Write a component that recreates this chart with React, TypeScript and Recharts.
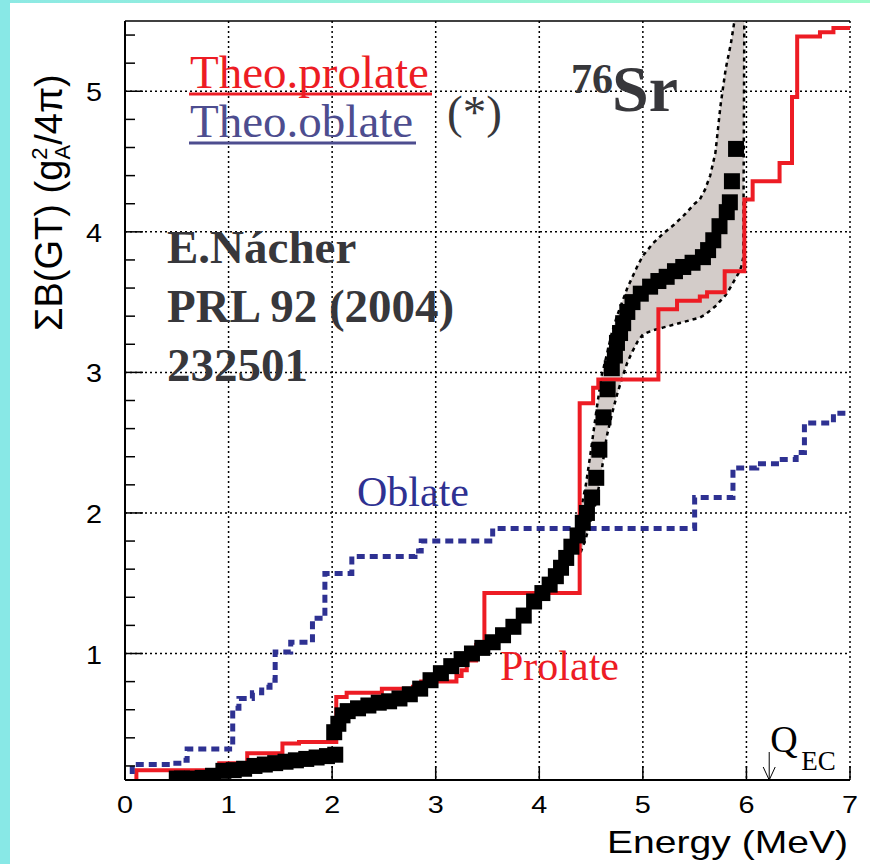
import React from "react";
import {
  ComposedChart,
  XAxis,
  YAxis,
  CartesianGrid,
  Line,
  Area,
  Scatter,
  ReferenceLine,
} from "recharts";

document.body.style.margin = "0";

// Theoretical cumulative B(GT), prolate shape (step after each energy)
const prolateE = [0.11, 0.11, 0.91, 1.18, 1.52, 1.68, 2.04, 2.14, 2.48, 2.78, 2.86, 3.2, 3.25, 3.3, 3.39, 3.47, 4.39, 4.52, 4.57, 5.15, 5.33, 5.55, 5.62, 5.79, 5.98, 6.06, 6.32, 6.44, 6.49, 6.71, 6.84, 7.0];
const prolateV = [0.05, 0.17, 0.22, 0.29, 0.36, 0.37, 0.69, 0.72, 0.75, 0.764, 0.8, 0.84, 0.88, 0.95, 1.06, 1.43, 2.78, 2.89, 2.95, 3.45, 3.51, 3.54, 3.57, 3.72, 4.23, 4.36, 4.49, 4.96, 5.39, 5.42, 5.45, 5.45];

// Theoretical cumulative B(GT), oblate shape
const oblateE = [0.07, 0.07, 0.45, 0.52, 0.6, 1.01, 1.04, 1.1, 1.23, 1.32, 1.4, 1.45, 1.6, 1.81, 1.93, 2.19, 2.8, 2.86, 3.55, 5.5, 5.87, 6.1, 6.32, 6.48, 6.56, 6.84, 7.0];
const oblateV = [0.05, 0.21, 0.22, 0.24, 0.32, 0.34, 0.61, 0.68, 0.72, 0.76, 0.81, 1.01, 1.08, 1.25, 1.57, 1.69, 1.73, 1.8, 1.89, 2.11, 2.32, 2.35, 2.38, 2.43, 2.64, 2.71, 2.71];

// Measured cumulative B(GT) (TAS), one square per bin
const expE = [0.5, 0.55, 0.65, 0.75, 0.85, 0.95, 1.05, 1.15, 1.25, 1.35, 1.45, 1.55, 1.65, 1.75, 1.85, 1.95, 2.03, 2.02, 2.06, 2.1, 2.15, 2.25, 2.35, 2.45, 2.55, 2.65, 2.75, 2.85, 2.95, 3.05, 3.15, 3.25, 3.35, 3.45, 3.55, 3.65, 3.75, 3.85, 3.95, 4.03, 4.1, 4.16, 4.21, 4.26, 4.31, 4.37, 4.42, 4.46, 4.51, 4.55, 4.58, 4.62, 4.66, 4.7, 4.73, 4.75, 4.78, 4.81, 4.85, 4.9, 4.98, 5.07, 5.15, 5.23, 5.31, 5.39, 5.48, 5.58, 5.63, 5.68, 5.74, 5.81, 5.84, 5.86, 5.9];
const expV = [0.11, 0.11, 0.11, 0.115, 0.13, 0.165, 0.17, 0.18, 0.2, 0.21, 0.22, 0.23, 0.24, 0.25, 0.26, 0.27, 0.28, 0.44, 0.5, 0.56, 0.59, 0.61, 0.63, 0.65, 0.66, 0.68, 0.71, 0.75, 0.81, 0.86, 0.91, 0.96, 1.0, 1.04, 1.08, 1.13, 1.19, 1.27, 1.37, 1.43, 1.49, 1.55, 1.61, 1.68, 1.76, 1.84, 1.93, 2.0, 2.11, 2.25, 2.45, 2.68, 2.88, 3.03, 3.12, 3.21, 3.28, 3.35, 3.43, 3.5, 3.56, 3.61, 3.65, 3.68, 3.72, 3.75, 3.78, 3.82, 3.87, 3.94, 4.04, 4.14, 4.21, 4.36, 4.59];

// Error band of the measurement
const bandE = [4.4, 4.45, 4.5, 4.55, 4.6, 4.65, 4.7, 4.75, 4.8, 4.85, 4.9, 4.95, 5.0, 5.1, 5.2, 5.3, 5.4, 5.5, 5.55, 5.6, 5.65, 5.7, 5.75, 5.8, 5.85, 5.88, 5.92, 5.95, 5.97, 5.98];
const bandHi = [2.02, 2.2, 2.45, 2.72, 2.97, 3.12, 3.28, 3.4, 3.5, 3.6, 3.68, 3.76, 3.83, 3.92, 3.99, 4.05, 4.12, 4.2, 4.23, 4.3, 4.4, 4.56, 4.9, 5.16, 5.34, 5.48, 5.6, 5.6, 5.6, 5.6];
const bandLo = [1.72, 1.82, 1.96, 2.08, 2.29, 2.54, 2.7, 2.84, 2.96, 3.07, 3.15, 3.22, 3.27, 3.3, 3.32, 3.34, 3.36, 3.38, 3.39, 3.41, 3.44, 3.47, 3.51, 3.55, 3.61, 3.65, 3.7, 3.75, 3.82, 5.6];

const xTicks = [0, 1, 2, 3, 4, 5, 6, 7];
const yTicks = [0.2, 0.4, 0.6, 0.8, 1, 1.2, 1.4, 1.6, 1.8, 2, 2.2, 2.4, 2.6, 2.8, 3, 3.2, 3.4, 3.6, 3.8, 4, 4.2, 4.4, 4.6, 4.8, 5, 5.2, 5.4];
const yMajor = [1, 2, 3, 4, 5];
const gridX = [1, 2, 3, 4, 5, 6, 7];
const gridY = [1, 2, 3, 4, 5];
const qEC = 6.22;

const prolate = prolateE.map((e, i) => ({ e, v: prolateV[i] }));
const oblate = oblateE.map((e, i) => ({ e, v: oblateV[i] }));
const measured = expE.map((e, i) => ({ e, v: expV[i] }));
const band = bandE.map((e, i) => ({ e, lo: bandLo[i], hi: bandHi[i] }));

const SANS = "'Liberation Sans', Arial, Helvetica, sans-serif";
const SERIF = "'Liberation Serif', 'Times New Roman', serif";
const RED = "#ed1c24";
const BLUE = "#2e3192";
const DARK = "#37373b";

const W = 870;
const H = 864;
const M = { top: 21, right: 20, left: 10, bottom: 44 };
const Y_AXIS_W = 115;
const X_AXIS_H = 40;
const PLOT_L = M.left + Y_AXIS_W;
const PLOT_R = W - M.right;
const PLOT_B = H - M.bottom - X_AXIS_H;
const Y_MIN = 0.1;
const Y_MAX = 5.5;
const X_MAX = 7;
const SQ = 16;
const px = (e: number) => PLOT_L + (e / X_MAX) * (PLOT_R - PLOT_L);

const YTick = ({ x, y, payload }: any) => {
  const major = yMajor.includes(payload.value);
  return (
    <g>
      <line x1={x} x2={x + (major ? 18 : 10)} y1={y} y2={y} stroke="#000" strokeWidth={1.5} />
      {major && (
        <text
          transform={`translate(${x - 23},${y + 10}) scale(1.15,1)`}
          textAnchor="end"
          fontSize={25}
          fontFamily={SANS}
          fill="#000"
        >
          {payload.value}
        </text>
      )}
    </g>
  );
};

const XTick = ({ x, y, payload }: any) => (
  <g>
    <line x1={x} x2={x} y1={y} y2={y - 14} stroke="#000" strokeWidth={1.5} />
    <text
      transform={`translate(${x},${y + 33}) scale(1.2,1)`}
      textAnchor="middle"
      fontSize={24}
      fontFamily={SANS}
      fill="#000"
    >
      {payload.value}
    </text>
  </g>
);

const Square = (p: any) => (
  <rect x={p.cx - SQ / 2} y={p.cy - SQ / 2} width={SQ} height={SQ} fill="#000" />
);

function Annotations() {
  const qx = px(qEC);
  return (
    <svg
      width={W}
      height={H}
      style={{ position: "absolute", left: 0, top: 0, pointerEvents: "none" }}
    >
      <text x={190} y={88} fontSize={47} fontFamily={SERIF} fill={RED}>
        Theo.prolate
      </text>
      <line x1={189} x2={432} y1={94} y2={94} stroke={RED} strokeWidth={3} />
      <text x={190} y={137} fontSize={47} fontFamily={SERIF} fill="#4d4d8f">
        Theo.oblate
      </text>
      <line x1={189} x2={416} y1={143} y2={143} stroke="#4d4d8f" strokeWidth={3} />
      <text x={447} y={128} fontSize={47} fontFamily={SERIF} fill={DARK}>
        (*)
      </text>
      <text x={571} y={93} fontSize={42} fontFamily={SERIF} fontWeight="bold" fill={DARK}>
        76
      </text>
      <text x={612} y={111} fontSize={66} fontFamily={SERIF} fontWeight="bold" fill={DARK}>
        Sr
      </text>
      <g fontFamily={SERIF} fontWeight="bold" fontSize={47} fill={DARK}>
        <text x={167} y={263}>E.Nácher</text>
        <text x={167} y={322}>PRL 92 (2004)</text>
        <text x={167} y={381}>232501</text>
      </g>
      <text x={357} y={506} fontSize={42} fontFamily={SERIF} fill={BLUE}>
        Oblate
      </text>
      <text x={500} y={680} fontSize={42} fontFamily={SERIF} fill={RED}>
        Prolate
      </text>
      <text x={qx + 1} y={752} fontSize={38} fontFamily={SERIF} fill="#000">
        Q
      </text>
      <text x={qx + 32} y={770} fontSize={27} fontFamily={SERIF} fill="#000">
        EC
      </text>
      <g stroke="#000" strokeWidth={1} fill="none">
        <line x1={qx} x2={qx} y1={752} y2={PLOT_B} />
        <polyline points={`${qx - 6},${PLOT_B - 13} ${qx},${PLOT_B} ${qx + 6},${PLOT_B - 13}`} />
      </g>
      <text
        x={848}
        y={853}
        fontSize={32}
        fontFamily={SANS}
        textAnchor="end"
        textLength={241}
        lengthAdjust="spacingAndGlyphs"
        fill="#000"
      >
        Energy (MeV)
      </text>
      <text transform="translate(62,331) rotate(-90)" fontSize={38} fontFamily={SANS} fill="#000">
        <tspan>ΣB(GT) (g</tspan>
        <tspan fontSize={22} dy={-15}>2</tspan>
        <tspan fontSize={22} dx={-12} dy={23}>A</tspan>
        <tspan dy={-8}>/4π)</tspan>
      </text>
    </svg>
  );
}

export default function App() {
  return (
    <div style={{ position: "relative", width: W, height: H, background: "#fff", overflow: "hidden" }}>
      <div
        style={{
          position: "absolute",
          left: 0,
          top: 0,
          width: W,
          height: 3,
          background: "linear-gradient(90deg, #8de9e4, #9ffbcb)",
        }}
      />
      <div style={{ position: "absolute", left: 0, top: 0, width: 10, height: H, background: "#88e8e6" }} />
      <div style={{ position: "absolute", left: 0, top: 0 }}>
        <ComposedChart width={W} height={H} margin={M}>
          <CartesianGrid
            horizontalValues={gridY}
            verticalValues={gridX}
            stroke="#000"
            strokeWidth={1.5}
            strokeDasharray="2 3"
          />
          <XAxis
            type="number"
            dataKey="e"
            domain={[0, X_MAX]}
            ticks={xTicks}
            interval={0}
            allowDataOverflow
            height={X_AXIS_H}
            tickSize={0}
            tickMargin={0}
            tickLine={false}
            tick={<XTick />}
            axisLine={{ stroke: "#000", strokeWidth: 2 }}
          />
          <YAxis
            type="number"
            domain={[Y_MIN, Y_MAX]}
            ticks={yTicks}
            interval={0}
            allowDataOverflow
            width={Y_AXIS_W}
            tickSize={0}
            tickMargin={0}
            tickLine={false}
            tick={<YTick />}
            axisLine={{ stroke: "#000", strokeWidth: 2 }}
          />
          <ReferenceLine y={Y_MAX} stroke="#000" strokeWidth={1.5} />
          <Area
            data={band}
            dataKey={(d: any) => [d.lo, d.hi]}
            type="linear"
            fill="#d3ccc9"
            fillOpacity={1}
            stroke="none"
            isAnimationActive={false}
          />
          <Line data={band} dataKey="hi" type="linear" stroke="#000" strokeWidth={2.5} strokeDasharray="4 4" dot={false} isAnimationActive={false} />
          <Line data={band} dataKey="lo" type="linear" stroke="#000" strokeWidth={2.5} strokeDasharray="4 4" dot={false} isAnimationActive={false} />
          <Scatter data={measured} dataKey="v" shape={Square} isAnimationActive={false} />
          <Line data={prolate} dataKey="v" type="stepAfter" stroke={RED} strokeWidth={4} dot={false} isAnimationActive={false} />
          <Line data={oblate} dataKey="v" type="stepAfter" stroke={BLUE} strokeWidth={5} strokeDasharray="8 5" dot={false} isAnimationActive={false} />
        </ComposedChart>
      </div>
      <Annotations />
    </div>
  );
}
